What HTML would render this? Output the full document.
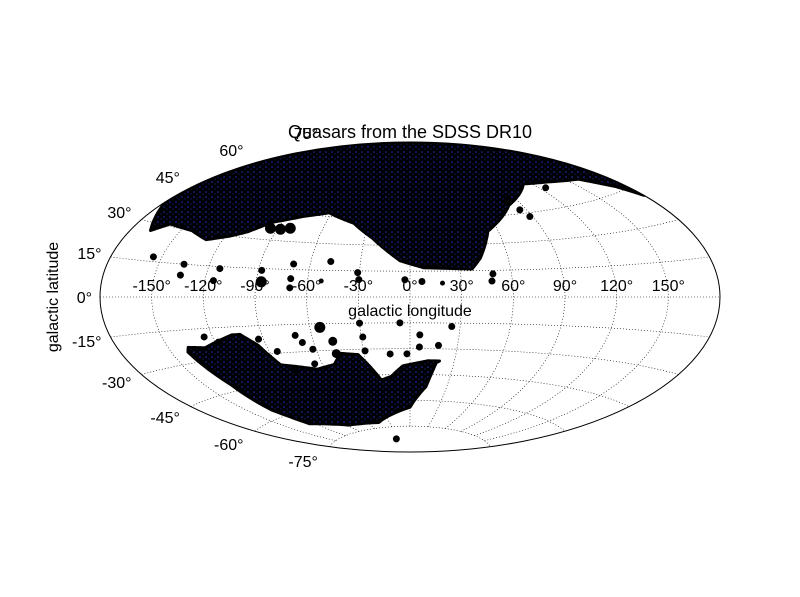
<!DOCTYPE html>
<html><head><meta charset="utf-8"><style>
html,body{margin:0;padding:0;background:#fff;}
svg{display:block;font-family:"Liberation Sans",sans-serif;}
</style></head><body>
<svg id="chart" width="800" height="597" viewBox="0 0 800 597">
<defs>
<pattern id="speck" width="6" height="5" patternUnits="userSpaceOnUse"><rect width="6" height="5" fill="#000"/><circle cx="2" cy="2" r="0.8" fill="#2233cc"/><circle cx="5" cy="4" r="0.6" fill="#1a2a99"/></pattern>
<clipPath id="ell"><ellipse cx="410" cy="297" rx="310" ry="155"/></clipPath>
</defs>
<text x="410" y="138" text-anchor="middle" font-size="18">Quasars from the SDSS DR10</text>
<g id="grid"></g>
<g id="marks" clip-path="url(#ell)"></g>
<ellipse cx="410" cy="297" rx="310" ry="155" fill="none" stroke="#000" stroke-width="1"/>
<g id="labels"></g>
<text x="410" y="316" text-anchor="middle" font-size="16">galactic longitude</text>
<text transform="translate(58,297) rotate(-90)" text-anchor="middle" font-size="16">galactic latitude</text>
</svg>
<script>
const lonTicks=[-150,-120,-90,-60,-30,0,30,60,90,120,150];
const latTicks=[-75,-60,-45,-30,-15,0,15,30,45,60,75];
// north footprint boundary (lon, lat)
const northLon=[-180,-168,-160,-143,-130,-117,-108,-97,-78,-62,-40,-25,-6,8,37,43,53,80,113,135,160,173,180,180,-180];
const northLat=[38,27,31,30,27,30,33,39,44,47,42,34,21,17,16,22,37,50,59,57,54,47,41,90,90];
// southern band (upper edge then lower edge)
const southLon=[-138,-128,-108,-103,-95,-88,-65,-52,-45,-34,-28,-22,-14,-5,12,20,18,13,0,-45,-88,-125,-132,-133,-140];
const southLat=[-23,-24,-19,-19,-25,-36,-40,-38,-32,-33,-40,-48,-46,-40,-37,-37,-38,-52,-64,-72,-71,-66,-56,-42,-25];
// isolated clusters
const spotLon=[-54,-70,-67,-62,-48,-48,-30,-29,-29,-6,6,18,25,-13,-2,6,-125,-118,-40,-65,-80,-85,-93,
 -155,-135,-135,-115,-113,-95,-88,-82,-88,-87,-70,-70,-70,-48,-31,-30,-3,7,49,48,83,85,88,125,-52,19];
const spotLat=[-17,-21,-25,-29,-25,-32,-15,-23,-31,-15,-22,-28,-17,-33,-33,-29,-19,-22,-82,-37,-39,-29,-22,
 17,15,10,8,14,36,36,37,14,8,18,10,5,20,14,10,10,9,13,9,53,47,43,55,9,8];
const spotSize=[5,3,3,3,4,4,3,3,3,3,3,3,3,3,3,3,3,3,3,3,3,3,3,
 3,3,3,3,3,5,5,5,3,5,3,3,3,3,3,3,3,3,3,3,3,3,3,3,2,2];

const cx=410,cy=297,RX=310,RY=155,R=Math.PI/180,S=RX/Math.PI;
function proj(lon,lat){const p=lat*R,l=lon*R/2;const ca=Math.cos(p)*Math.cos(l);const a=Math.acos(Math.max(-1,Math.min(1,ca)));
 const sinc=a<1e-9?1:Math.sin(a)/a;
 const X=2*Math.cos(p)*Math.sin(l)/sinc, Y=Math.sin(p)/sinc;return [cx+S*X,cy-S*Y];}
const NS="http://www.w3.org/2000/svg";
function mk(t,a,parent){const e=document.createElementNS(NS,t);for(const k in a)e.setAttribute(k,a[k]);parent.appendChild(e);return e;}
function dense(lons,lats){const pts=[];for(let i=0;i<lons.length;i++){const j=(i+1)%lons.length;
 for(let s=0;s<10;s++){const t=s/10;pts.push(proj(lons[i]+(lons[j]-lons[i])*t,lats[i]+(lats[j]-lats[i])*t));}}
 return pts.map(p=>p[0].toFixed(1)+","+p[1].toFixed(1)).join(" ");}
const grid=document.getElementById('grid'),marks=document.getElementById('marks'),labels=document.getElementById('labels');
lonTicks.forEach(lo=>{let d="";for(let la=-75;la<=75;la+=2.5){const p=proj(lo,la);d+=(la==-75?"M":"L")+p[0].toFixed(1)+" "+p[1].toFixed(1);}
 const e=mk('path',{d:d,fill:'none',stroke:'#000','stroke-width':0.6,'stroke-dasharray':'1,2'},grid);
 
 
 const p=proj(lo,0);const t=mk('text',{x:p[0],y:291,'text-anchor':'middle','font-size':16},labels);t.textContent=lo+"°";
 
 });
latTicks.forEach(la=>{let d="";for(let lo=-180;lo<=180;lo+=5){const p=proj(lo,la);d+=(lo==-180?"M":"L")+p[0].toFixed(1)+" "+p[1].toFixed(1);}
 const e=mk('path',{d:d,fill:'none',stroke:'#000','stroke-width':0.6,'stroke-dasharray':'1,2'},grid);
 
 
 const p=proj(-180,la);const s=Math.sin(la*R);
 const t=mk('text',{x:p[0]-8-Math.abs(s)*4,y:p[1]-s*15+6,'text-anchor':'end','font-size':16},labels);t.textContent=la+"°";
 
 });
const n=mk('polygon',{points:dense(northLon,northLat),fill:'url(#speck)',stroke:'#000','stroke-width':3,'stroke-linejoin':'round'},marks);


const so=mk('polygon',{points:dense(southLon,southLat),fill:'url(#speck)',stroke:'#000','stroke-width':3,'stroke-linejoin':'round'},marks);


spotLon.forEach((lo,i)=>{const p=proj(lo,spotLat[i]);
 const c=mk('circle',{cx:p[0],cy:p[1],r:spotSize[i],fill:'#000',stroke:'#000'},marks);
 
 });
</script>
</body></html>
